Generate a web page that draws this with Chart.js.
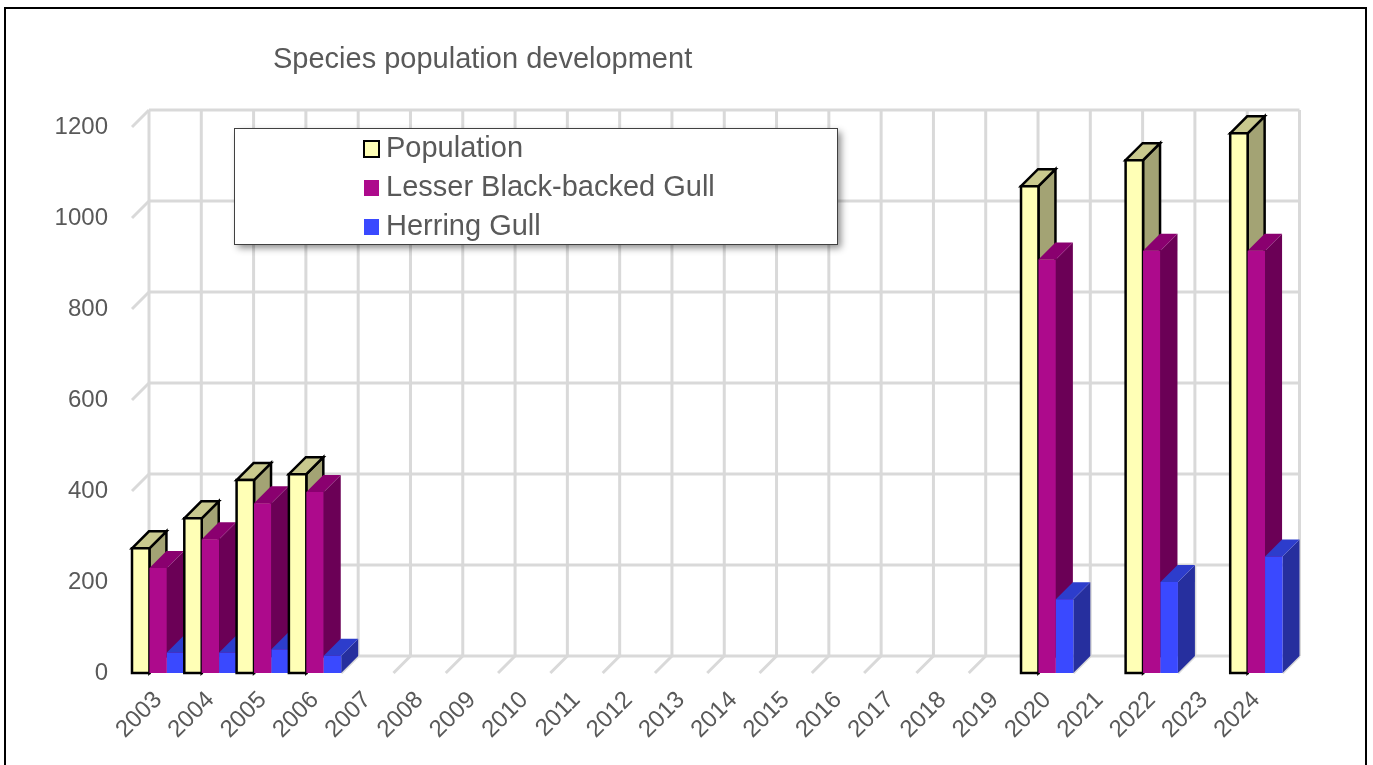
<!DOCTYPE html>
<html lang="en">
<head>
  <meta charset="UTF-8">
  <title>Species population development</title>
  <script src="https://cdn.jsdelivr.net/npm/chart.js"></script>
  <style>
    html, body { margin: 0; padding: 0; background: #fff; }
    #wrap { width: 1373px; height: 765px; }
  </style>
</head>
<body>
  <div id="wrap"><canvas id="speciesChart" width="1373" height="765"></canvas></div>

  <script>
    const years = ['2003', '2004', '2005', '2006', '2007', '2008', '2009', '2010', '2011', '2012', '2013',
                   '2014', '2015', '2016', '2017', '2018', '2019', '2020', '2021', '2022', '2023', '2024'];
    const population        = [274, 340, 424, 437, null, null, null, null, null, null, null,
                               null, null, null, null, null, null, 1070, null, 1127, null, 1186];
    const lesserBlackBacked = [231, 294, 373, 398, null, null, null, null, null, null, null,
                               null, null, null, null, null, null, 909, null, 928, null, 928];
    const herringGull       = [45, 45, 52, 38, null, null, null, null, null, null, null,
                               null, null, null, null, null, null, 162, null, 200, null, 256];
    const seriesNames = ['Population', 'Lesser Black-backed Gull', 'Herring Gull'];

    const DEPTH = 17;
    const FONT = '"Liberation Sans", Arial, sans-serif';
    const TEXT = '#595959';
    const GRID = '#d9d9d9';

    // front / top / side colours of each series
    const faces = [
      { front: '#ffffb6', top: '#c9c98e', side: '#a3a374', stroke: '#000' },
      { front: '#ad0a8c', top: '#8a006f', side: '#6b0056', stroke: null },
      { front: '#3a49ff', top: '#2d3dcc', side: '#262f9e', stroke: null }
    ];

    function line(ctx, x1, y1, x2, y2) {
      ctx.beginPath();
      ctx.moveTo(x1, y1);
      ctx.lineTo(x2, y2);
      ctx.stroke();
    }

    function poly(ctx, pts, fill, stroke) {
      ctx.beginPath();
      ctx.moveTo(pts[0][0], pts[0][1]);
      for (let i = 1; i < pts.length; i++) ctx.lineTo(pts[i][0], pts[i][1]);
      ctx.closePath();
      ctx.fillStyle = fill;
      ctx.fill();
      if (stroke) {
        ctx.strokeStyle = stroke;
        ctx.lineWidth = 2.5;
        ctx.lineJoin = 'miter';
        ctx.stroke();
      }
    }

    // walls, floor and the 3d columns
    const bars3d = {
      id: 'bars3d',
      beforeDatasetsDraw(chart) {
        const ctx = chart.ctx;
        const area = chart.chartArea;
        const xs = chart.scales.x;
        const ys = chart.scales.y;
        const d = DEPTH;

        ctx.save();
        ctx.strokeStyle = GRID;
        ctx.lineWidth = 3;

        ys.ticks.forEach(t => {
          const y = ys.getPixelForValue(t.value);
          line(ctx, area.left, y, area.left + d, y - d);
          line(ctx, area.left + d, y - d, area.right + d, y - d);
        });

        const half = (xs.getPixelForTick(1) - xs.getPixelForTick(0)) / 2;
        const bounds = years.map((_, i) => xs.getPixelForTick(i) - half);
        bounds.push(xs.getPixelForTick(years.length - 1) + half);
        bounds.forEach(b => {
          line(ctx, b + d, area.top - d, b + d, area.bottom - d);
          line(ctx, b, area.bottom, b + d, area.bottom - d);
        });

        for (let i = 0; i < years.length; i++) {
          chart.data.datasets.forEach((ds, di) => {
            if (ds.data[i] == null) return;
            const el = chart.getDatasetMeta(di).data[i];
            const f = faces[di];
            const l = el.x - el.width / 2, r = el.x + el.width / 2;
            const top = el.y, base = el.base;
            poly(ctx, [[r, top], [r + d, top - d], [r + d, base - d], [r, base]], f.side, f.stroke);
            poly(ctx, [[l, top], [l + d, top - d], [r + d, top - d], [r, top]], f.top, f.stroke);
            poly(ctx, [[l, top], [r, top], [r, base], [l, base]], f.front, f.stroke);
          });
        }
        ctx.restore();
        return false;
      },
      afterDraw(chart) {
        const ctx = chart.ctx;
        ctx.save();

        // outer frame
        ctx.strokeStyle = '#000';
        ctx.lineWidth = 2;
        ctx.strokeRect(5, 8, 1361, 800);

        // title
        ctx.fillStyle = TEXT;
        ctx.font = '29px ' + FONT;
        ctx.textAlign = 'left';
        ctx.textBaseline = 'alphabetic';
        ctx.fillText('Species population development', 273, 68);

        // legend box with shadow
        const bx = 234, by = 128, bw = 603, bh = 116;
        ctx.shadowColor = 'rgba(0,0,0,0.45)';
        ctx.shadowBlur = 7;
        ctx.shadowOffsetX = 4;
        ctx.shadowOffsetY = 4;
        ctx.fillStyle = '#fff';
        ctx.fillRect(bx, by, bw, bh);
        ctx.shadowColor = 'transparent';
        ctx.strokeStyle = '#404040';
        ctx.lineWidth = 1;
        ctx.strokeRect(bx + 0.5, by + 0.5, bw, bh);

        ctx.textBaseline = 'middle';
        ctx.font = '29px ' + FONT;
        chart.data.datasets.forEach((ds, di) => {
          const cy = 149 + di * 39;
          const f = faces[di];
          ctx.fillStyle = f.front;
          ctx.fillRect(364, cy - 8, 15, 16);
          if (f.stroke) {
            ctx.strokeStyle = f.stroke;
            ctx.lineWidth = 2;
            ctx.strokeRect(364, cy - 8, 15, 16);
          }
          ctx.fillStyle = TEXT;
          ctx.fillText(ds.label, 386, cy);
        });
        ctx.restore();
      }
    };

    new Chart(document.getElementById('speciesChart'), {
      type: 'bar',
      data: {
        labels: years,
        datasets: [
          { label: seriesNames[0], data: population, backgroundColor: faces[0].front },
          { label: seriesNames[1], data: lesserBlackBacked, backgroundColor: faces[1].front },
          { label: seriesNames[2], data: herringGull, backgroundColor: faces[2].front }
        ]
      },
      options: {
        responsive: false,
        animation: false,
        layout: { padding: { left: 0, right: 90.5, top: 127, bottom: 0 } },
        datasets: { bar: { categoryPercentage: 1.0, barPercentage: 1.0 } },
        plugins: { legend: { display: false }, title: { display: false }, tooltip: { enabled: false } },
        scales: {
          x: {
            grid: { display: false, drawTicks: false },
            border: { display: false },
            ticks: {
              color: TEXT,
              font: { family: FONT, size: 24 },
              minRotation: 45,
              maxRotation: 45,
              autoSkip: false,
              padding: 13
            },
            afterFit(scale) { scale.height = 92; }
          },
          y: {
            min: 0,
            max: 1200,
            grid: { display: false, drawTicks: false },
            border: { display: false },
            ticks: {
              stepSize: 200,
              color: TEXT,
              font: { family: FONT, size: 24 },
              padding: 24,
              callback: v => String(v)
            },
            afterFit(scale) { scale.width = 132; }
          }
        }
      },
      plugins: [bars3d]
    });
  </script>
</body>
</html>
